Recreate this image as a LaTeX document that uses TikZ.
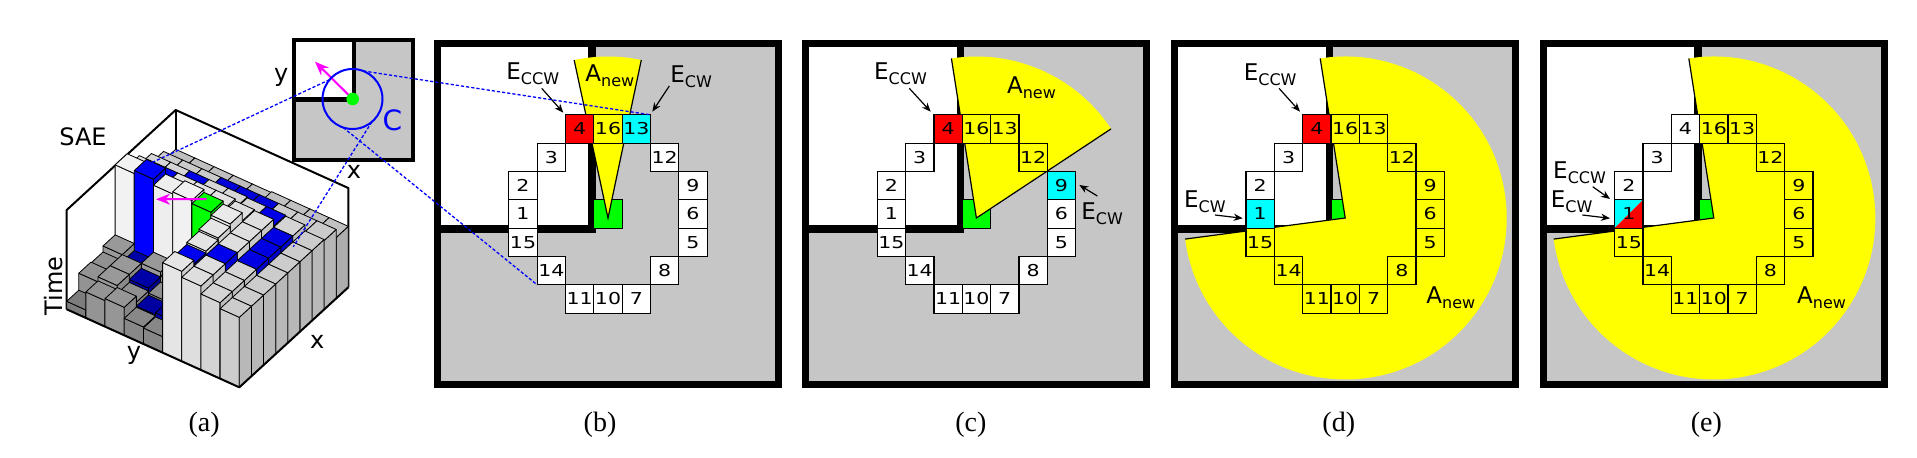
\documentclass[tikz,border=0pt]{standalone}
\usepackage{fontspec}
\setmainfont{Liberation Serif}
\newfontfamily\dv{DejaVu Sans}
\newfontfamily\dvw[FakeStretch=1.25]{DejaVu Sans}
\usetikzlibrary{arrows.meta}
\definecolor{bgray}{RGB}{198,198,198}
\definecolor{myyellow}{RGB}{255,255,0}
\definecolor{mycyan}{RGB}{0,255,255}
\definecolor{myred}{RGB}{255,0,0}
\definecolor{mygreen}{RGB}{0,255,0}
\definecolor{myblue}{RGB}{0,0,255}
\definecolor{mymag}{RGB}{255,0,255}
\tikzset{
 cellbox/.style={draw=black, line width=0.65pt, minimum size=14.17pt, inner sep=0pt, outer sep=0pt, font=\dvw\fontsize{8.2}{9}\selectfont},
 arr/.style={-{Stealth[length=4.5pt,width=3.6pt]}, line width=0.6pt},
 lab/.style={anchor=base west, inner sep=0pt, font=\dv},
 bar/.style={draw=black, line width=0.4pt, line join=round},
 boxline/.style={line width=1pt, line join=round},
 dashblue/.style={myblue, line width=0.65pt, dash pattern=on 1.6pt off 1pt},
 magarr/.style={mymag, line width=1pt, -{Stealth[length=7pt,width=5.5pt]}},
 sectoredge/.style={line width=0.6pt},
 captxt/.style={anchor=base, inner sep=0pt, font=\fontsize{14}{16}\selectfont},
 axlab/.style={inner sep=0pt, font=\dv\fontsize{12}{14}\selectfont},
}
\newcommand\sublab[2]{{\fontsize{11.5}{12}\selectfont #1}{\fontsize{8}{9}\selectfont\raisebox{-2.5pt}{#2}}}
\newcommand\panelbase[2]{%
 \fill[bgray] ({#2-170.5},43.5) rectangle ({#2+170.5},384.5);
 \fill[white] ({#2-170.5},43.5) rectangle ({#2-16},229);
 \draw[line width=3.5pt] ({#2-170.5},43.5) rectangle ({#2+170.5},384.5);
 \fill[black] ({#2-19.7},40) rectangle ({#2-12.3},232.7);
 \fill[black] ({#2-174},225.3) rectangle ({#2-12.3},232.7);
 \node[cellbox, fill=mygreen] (#1g) at (#2,214) {};
}
\newcommand\sector[4]{%
 \coordinate (#1ap) at (#2,218);
 \fill[myyellow] (#1ap) -- ++(#3:161.5) arc[start angle=#3, end angle=#4, radius=161.5] -- cycle;
 \draw[sectoredge] (#1ap) ++(#3:161.5) -- (#1ap) -- ++(#4:161.5);
}
\newcommand\cellset[3]{%
 \foreach \nn/\cc/\rr/\ff in {#3} {
   \node[cellbox, fill=\ff] (#1\nn) at ({#2+(\cc)*28.33},{214+(\rr)*28.33}) {\nn};
 }
}
\def\Hlist{{8,25,24,30,100,87,78,69,60,
26,30,30,23,103,87,78,69,60,
28,22,25,30,97,87,78,69,60,
17,18,20,26,99,87,78,69,60,
16,20,18,24,96,87,78,69,60,
90,86,88,90,93,85,77,69,61,
84,84,84,84,84,84,77,69,61,
76,76,76,76,76,76,76,69,61,
70,70,70,70,70,70,70,69,61}}
\def\Tlist{{0,0,0,0,0,0,0,0,0,
0,0,0,1,1,1,0,0,0,
0,0,1,0,0,0,1,0,0,
0,1,0,0,0,0,0,1,0,
0,1,0,0,2,0,0,1,0,
0,1,0,0,0,0,0,1,0,
0,0,1,0,0,0,1,0,0,
0,0,0,1,1,1,0,0,0,
0,0,0,0,0,0,0,0,0}}
\begin{document}
\begin{tikzpicture}[x=0.5pt,y=-0.5pt]
\useasboundingbox (0,0) rectangle (1917,458);
% ---------- panel (a): 3D SAE ----------
\begin{scope}[shift={(66.7,309.3)}, x={(9.59pt,-4.335pt)}, y={(6.055pt,5.555pt)}, z={(0pt,0.5pt)}]
 \draw[boxline] (0,0,0) -- (0,0,99.3) -- (0,9,99.3) -- (9,9,99.3) -- (9,9,0);
 \draw[boxline] (0,9,99.3) -- (0,9,0);
 \foreach \jj in {8,7,...,0} {
  \foreach \ii in {0,...,8} {
   \pgfmathtruncatemacro\kk{\ii*9+\jj}
   \pgfmathsetmacro\zz{\Hlist[\kk]}
   \pgfmathtruncatemacro\ty{\Tlist[\kk]}
   \ifnum\ty=0 \pgfmathsetmacro\gv{min(0.96,0.45+0.5*\zz/100)}\definecolor{barc}{rgb}{\gv,\gv,\gv}\fi
   \ifnum\ty=1 \pgfmathsetmacro\bv{min(1,0.55+0.45*\zz/100)}\definecolor{barc}{rgb}{0,0,\bv}\fi
   \ifnum\ty=2 \definecolor{barc}{rgb}{0,1,0}\fi
   \filldraw[bar, fill=barc] (\ii,\jj,0) -- (\ii+1,\jj,0) -- (\ii+1,\jj,\zz) -- (\ii,\jj,\zz) -- cycle;
   \filldraw[bar, fill=barc!90!black] (\ii+1,\jj,0) -- (\ii+1,\jj+1,0) -- (\ii+1,\jj+1,\zz) -- (\ii+1,\jj,\zz) -- cycle;
   \filldraw[bar, fill=barc] (\ii,\jj,\zz) -- (\ii+1,\jj,\zz) -- (\ii+1,\jj+1,\zz) -- (\ii,\jj+1,\zz) -- cycle;
  }
 }
 \draw[boxline] (0,0,0) -- (9,0,0) -- (9,9,0);
\end{scope}
\node[axlab, anchor=base west] (sae) at (59,145.7) {SAE};
\node[axlab, rotate=90] (time) at (53.3,286) {Time};
\node[axlab] (ylab) at (134,355.8) {y};
\node[axlab] (xlab) at (317.2,341.7) {x};
\coordinate (ma1) at (206.7,199);
\coordinate (ma2) at (156,199.3);
\draw[magarr] (ma1) -- (ma2);
% ---------- inset ----------
\fill[bgray] (294,40.3) rectangle (413,159.7);
\fill[white] (294,40.3) rectangle (353.8,99.2);
\fill[black] (351.7,38.3) rectangle (356,101.7);
\fill[black] (292,96.7) rectangle (356,101.7);
\draw[line width=2pt] (294,40.3) rectangle (413,159.7);
\coordinate (gc) at (352.7,99);
\coordinate (mtip) at (315,61.7);
\draw[magarr] (gc) -- (mtip);
\node[circle, fill=mygreen, minimum size=6.3pt, inner sep=0pt] (gdot) at (gc) {};
\node[circle, draw=myblue, line width=1pt, minimum size=30pt, inner sep=0pt, outer sep=0pt] (ccirc) at (352.5,99) {};
\node[axlab] (iy) at (281.3,77) {y};
\node[axlab] (ix) at (354,171.7) {x};
\node[inner sep=0pt, font=\dv\fontsize{14}{16}\selectfont, text=myblue] (clab) at (392.5,120) {C};
% ---------- panel (b) ----------
\panelbase{b}{608}
\sector{b}{608}{-78.1}{-102.1}
\cellset{b}{608}{1/-3/0/white, 2/-3/-1/white, 3/-2/-2/white, 4/-1/-3/myred, 16/0/-3/myyellow, 13/1/-3/mycyan, 12/2/-2/white, 9/3/-1/white, 6/3/0/white, 5/3/1/white, 8/2/2/white, 7/1/3/white, 10/0/3/white, 11/-1/3/white, 14/-2/2/white, 15/-3/1/white}
\node[lab] (bEccw) at (506,80) {\sublab{E}{CCW}};
\node[lab] (bAnew) at (585,82) {\sublab{A}{new}};
\node[lab] (bEcw) at (670,82.7) {\sublab{E}{CW}};
\coordinate (bq1) at (541.7,88.3); \coordinate (bq2) at (563.3,112.7);
\coordinate (bq3) at (669.3,86);   \coordinate (bq4) at (652.3,111.7);
\draw[arr] (bq1) -- (bq2);
\draw[arr] (bq3) -- (bq4);
% ---------- panel (c) ----------
\panelbase{c}{976.4}
\sector{c}{976.4}{-33.5}{-98.9}
\cellset{c}{976.4}{1/-3/0/white, 2/-3/-1/white, 3/-2/-2/white, 4/-1/-3/myred, 16/0/-3/myyellow, 13/1/-3/myyellow, 12/2/-2/myyellow, 9/3/-1/mycyan, 6/3/0/white, 5/3/1/white, 8/2/2/white, 7/1/3/white, 10/0/3/white, 11/-1/3/white, 14/-2/2/white, 15/-3/1/white}
\node[lab] (cEccw) at (873.8,80) {\sublab{E}{CCW}};
\node[lab] (cAnew) at (1006.7,94) {\sublab{A}{new}};
\node[lab] (cEcw) at (1081,219.3) {\sublab{E}{CW}};
\coordinate (cq1) at (909.3,88.3); \coordinate (cq2) at (930.7,111.7);
\coordinate (cq3) at (1097.3,196); \coordinate (cq4) at (1079.3,185);
\draw[arr] (cq1) -- (cq2);
\draw[arr] (cq3) -- (cq4);
% ---------- panel (d) ----------
\panelbase{d}{1345.2}
\sector{d}{1345.2}{-98.9}{172.5}
\cellset{d}{1345.2}{1/-3/0/mycyan, 2/-3/-1/white, 3/-2/-2/white, 4/-1/-3/myred, 16/0/-3/myyellow, 13/1/-3/myyellow, 12/2/-2/myyellow, 9/3/-1/myyellow, 6/3/0/myyellow, 5/3/1/myyellow, 8/2/2/myyellow, 7/1/3/myyellow, 10/0/3/myyellow, 11/-1/3/myyellow, 14/-2/2/myyellow, 15/-3/1/myyellow}
\node[lab] (dEccw) at (1243.4,80.7) {\sublab{E}{CCW}};
\node[lab] (dAnew) at (1426,304) {\sublab{A}{new}};
\node[lab] (dEcw) at (1183.8,207.3) {\sublab{E}{CW}};
\coordinate (dq1) at (1279,88.3); \coordinate (dq2) at (1300,111.7);
\coordinate (dq3) at (1215,215);  \coordinate (dq4) at (1242.7,218.3);
\draw[arr] (dq1) -- (dq2);
\draw[arr] (dq3) -- (dq4);
% ---------- panel (e) ----------
\panelbase{e}{1713.8}
\sector{e}{1713.8}{-98.9}{172.5}
\cellset{e}{1713.8}{2/-3/-1/white, 3/-2/-2/white, 4/-1/-3/white, 16/0/-3/myyellow, 13/1/-3/myyellow, 12/2/-2/myyellow, 9/3/-1/myyellow, 6/3/0/myyellow, 5/3/1/myyellow, 8/2/2/myyellow, 7/1/3/myyellow, 10/0/3/myyellow, 11/-1/3/myyellow, 14/-2/2/myyellow, 15/-3/1/myyellow}
\node[cellbox, path picture={
  \fill[mycyan] (path picture bounding box.north west) -- (path picture bounding box.north east) -- (path picture bounding box.south west) -- cycle;
  \fill[myred] (path picture bounding box.north east) -- (path picture bounding box.south east) -- (path picture bounding box.south west) -- cycle;}]
  (e1) at ({1713.8-85},214) {1};
\node[lab] (eEccw) at (1552.8,179) {\sublab{E}{CCW}};
\node[lab] (eAnew) at (1796.7,304) {\sublab{A}{new}};
\node[lab] (eEcw) at (1550.4,207.3) {\sublab{E}{CW}};
\coordinate (eq1) at (1592.7,186.7); \coordinate (eq2) at (1610,199);
\coordinate (eq3) at (1582.3,215);   \coordinate (eq4) at (1610,218.3);
\draw[arr] (eq1) -- (eq2);
\draw[arr] (eq3) -- (eq4);
% ---------- captions ----------
\node[captxt] (capa) at (204.2,432) {(a)};
\node[captxt] (capb) at (600,432) {(b)};
\node[captxt] (capc) at (970.8,432) {(c)};
\node[captxt] (capd) at (1338.8,432) {(d)};
\node[captxt] (cape) at (1706.3,432) {(e)};
% ---------- dashed connectors ----------
\coordinate (sa1) at (146.7,165);
\coordinate (sa2) at (293.3,246.7);
\draw[dashblue] (ccirc.140.9) -- (sa1);
\draw[dashblue] (ccirc.69) -- (b13.north east);
\draw[dashblue] (ccirc.252.6) -- (b14.south west);
\draw[dashblue] (ccirc.-50.8) -- (sa2);
\end{tikzpicture}
\end{document}
